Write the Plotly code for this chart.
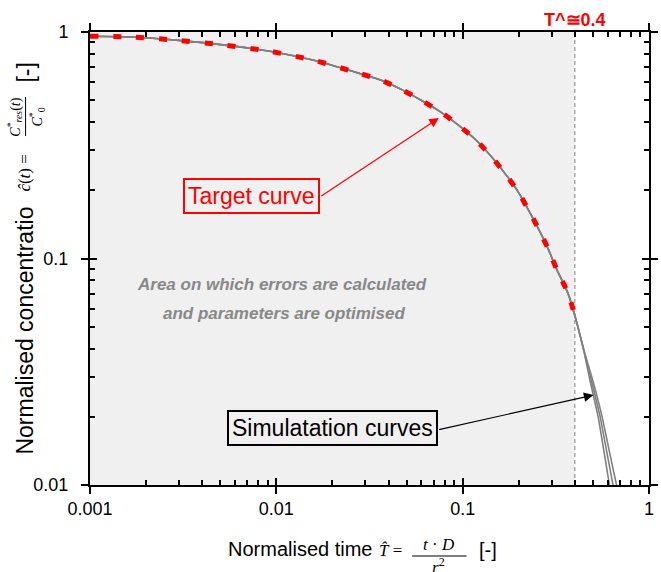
import math
import plotly.graph_objects as go

# ---------------- data ----------------
T_COMMON = [0.001, 0.0017, 0.003, 0.0053, 0.0094, 0.0163, 0.028, 0.0363, 0.0468,
            0.0605, 0.0767, 0.096, 0.119, 0.144, 0.173, 0.2, 0.229, 0.259, 0.288,
            0.318, 0.368, 0.4]
C_COMMON = [0.958, 0.950, 0.918, 0.875, 0.820, 0.746, 0.656, 0.614, 0.558,
            0.497, 0.442, 0.385, 0.331, 0.279, 0.231, 0.195, 0.160, 0.132, 0.110,
            0.0905, 0.070, 0.056]

C_TAIL = [0.0394, 0.0282, 0.0200, 0.0143, 0.0102, 0.0086]
T_TAIL_A = [0.4456, 0.4857, 0.5335, 0.5713, 0.6112, 0.6333]
T_TAIL_B = [0.4467, 0.4946, 0.5467, 0.5906, 0.6381, 0.6636]
T_TAIL_C = [0.4478, 0.5037, 0.5602, 0.6104, 0.6660, 0.6968]

T_CUT = 0.4
X_RANGE = [0.001, 1]
Y_RANGE = [0.01, 1]
X_TICKS = [0.001, 0.01, 0.1, 1]
X_TICKTEXT = ["0.001", "0.01", "0.1", "1"]
Y_TICKS = [0.01, 0.1, 1]
Y_TICKTEXT = ["0.01", "0.1", "1"]
X_MINOR = [m * 10 ** e for e in (-3, -2, -1) for m in range(2, 10)]
Y_MINOR = [m * 10 ** e for e in (-2, -1) for m in range(2, 10)]

FONT = "Liberation Sans, Arial, sans-serif"
MATH = "Liberation Serif, DejaVu Serif, serif"

fig = go.Figure()

# shaded area
fig.add_trace(go.Scatter(
    x=[X_RANGE[0], T_CUT, T_CUT, X_RANGE[0], X_RANGE[0]],
    y=[Y_RANGE[0], Y_RANGE[0], Y_RANGE[1], Y_RANGE[1], Y_RANGE[0]],
    fill="toself", fillcolor="#f0f0f0", line=dict(width=0), mode="lines",
    hoverinfo="skip", showlegend=False))
# cut line
fig.add_trace(go.Scatter(
    x=[T_CUT, T_CUT], y=Y_RANGE, mode="lines",
    line=dict(color="#808080", width=1, dash="4px,3px"),
    hoverinfo="skip", showlegend=False))

# simulation curves
for tail in (T_TAIL_A, T_TAIL_B, T_TAIL_C):
    fig.add_trace(go.Scatter(
        x=T_COMMON + tail, y=C_COMMON + C_TAIL, mode="lines",
        line=dict(color="#808080", width=1.6, shape="spline", smoothing=0.6),
        showlegend=False))

# target curve
fig.add_trace(go.Scatter(
    x=T_COMMON, y=C_COMMON, mode="lines",
    line=dict(color="#ff0000", width=5, dash="8px,15px", shape="spline", smoothing=0.6),
    showlegend=False))

axis_common = dict(type="log", showgrid=False, zeroline=False)
fig.update_layout(
    width=661, height=572,
    margin=dict(l=90, r=7, t=32, b=87),
    paper_bgcolor="white", plot_bgcolor="white",
    showlegend=False,
    font=dict(family=FONT, color="black"),
    xaxis=dict(**axis_common, range=[math.log10(X_RANGE[0]), math.log10(X_RANGE[1])],
               showline=True, linecolor="black", linewidth=2, mirror="ticks",
               tickmode="array", tickvals=X_TICKS, ticktext=X_TICKTEXT,
               ticks="inside", ticklen=7, tickwidth=2, tickcolor="black",
               ticklabelstandoff=6,
               tickfont=dict(size=18, family=FONT, color="black"),
               minor=dict(tickmode="array", tickvals=X_MINOR, ticks="inside",
                          ticklen=5, tickwidth=1.5, tickcolor="black", showgrid=False)),
    yaxis=dict(**axis_common, range=[math.log10(Y_RANGE[0]), math.log10(Y_RANGE[1])],
               showline=True, linecolor="black", linewidth=2, mirror="ticks",
               tickmode="array", tickvals=Y_TICKS, ticktext=Y_TICKTEXT,
               ticks="inside", ticklen=7, tickwidth=2, tickcolor="black",
               ticklabelstandoff=16,
               tickfont=dict(size=18, family=FONT, color="black"),
               minor=dict(tickmode="array", tickvals=Y_MINOR, ticks="inside",
                          ticklen=5, tickwidth=1.5, tickcolor="black", showgrid=False)),
    xaxis2=dict(**axis_common, range=[math.log10(X_RANGE[0]), math.log10(X_RANGE[1])],
                overlaying="x", anchor="y2", showline=False, mirror="ticks",
                tickmode="array", tickvals=X_TICKS, ticks="outside", ticklen=8,
                tickwidth=2, tickcolor="black", showticklabels=False),
    yaxis2=dict(**axis_common, range=[math.log10(Y_RANGE[0]), math.log10(Y_RANGE[1])],
                overlaying="y", anchor="x2", showline=False, mirror="ticks",
                tickmode="array", tickvals=Y_TICKS, ticks="outside", ticklen=8,
                tickwidth=2, tickcolor="black", showticklabels=False),
)
# invisible helper so overlay axes render
fig.add_trace(go.Scatter(x=[None], y=[None], xaxis="x2", yaxis="y2",
                         mode="markers", showlegend=False, hoverinfo="skip"))

L, R, T, B = 90, 654, 32, 485
def px(x): return (x - L) / (R - L)
def py(y): return (B - y) / (B - T)

def txt(text, x, y, size, family=FONT, color="black", angle=0, **kw):
    d = dict(text=text, x=px(x), y=py(y), xref="paper", yref="paper",
             xanchor="center", yanchor="middle", showarrow=False, textangle=angle,
             font=dict(size=size, family=family, color=color))
    d.update(kw)
    return d

ann = []
# x title
ann.append(txt("Normalised time", 302, 549, 20))
ann.append(txt("<i>T̂</i> =", 393, 550, 17, MATH))
ann.append(txt("<i>t</i> · <i>D</i>", 442, 544, 17, MATH))
ann.append(txt("<i>r</i><sup>2</sup>", 442, 566, 17, MATH))
ann.append(txt("[-]", 492, 550, 20))
# y title
ann.append(txt("Normalised concentratio", 24, 331, 23, angle=-90))
ann.append(txt("<i>ĉ</i>(<i>t</i>) =", 23, 173, 17, MATH, angle=-90))
ann.append(txt("<i>C</i><sup>*</sup><sub><i>res</i></sub>(<i>t</i>)", 14, 117, 14, MATH, angle=-90))
ann.append(txt("<i>C</i><sup>*</sup><sub>0</sub>", 37, 117, 14, MATH, angle=-90))
ann.append(txt("[-]", 25, 73, 23, angle=-90))
# cut label
ann.append(dict(text="<b>T^≅0.4</b>", x=math.log10(T_CUT), y=py(20), xref="x", yref="paper",
                xanchor="center", yanchor="middle", showarrow=False,
                font=dict(size=18, family=FONT, color="#ff0000")))
# area text
ann.append(txt("<b><i>Area on which errors are calculated</i></b>", 284, 284, 17, color="#888888"))
ann.append(txt("<b><i>and parameters are optimised</i></b>", 286, 313, 17, color="#888888"))
# target curve label + arrow
ann.append(txt("Target curve", 253, 196, 23, color="#ff0000",
               bordercolor="#ff0000", borderwidth=2, borderpad=3))
ann.append(dict(text="", x=math.log10(0.0745), y=math.log10(0.417), xref="x", yref="y",
                ax=-119, ay=79, axref="pixel", ayref="pixel", showarrow=True,
                arrowhead=2, arrowsize=1.6, arrowwidth=1.2, arrowcolor="#ff0000"))
# simulation label + arrow
ann.append(txt("Simulatation curves", 335, 428, 23,
               bordercolor="black", borderwidth=2, borderpad=3))
ann.append(dict(text="", x=math.log10(0.5036), y=math.log10(0.02496), xref="x", yref="y",
                ax=-156, ay=35, axref="pixel", ayref="pixel", showarrow=True,
                arrowhead=2, arrowsize=1.6, arrowwidth=1.2, arrowcolor="black"))
fig.update_layout(annotations=ann)

# fraction bars
fig.update_layout(shapes=[
    dict(type="line", xref="paper", yref="paper", x0=px(415), x1=px(470), y0=py(556), y1=py(556),
         line=dict(color="black", width=1)),
    dict(type="line", xref="paper", yref="paper", x0=px(25), x1=px(25), y0=py(97), y1=py(136),
         line=dict(color="black", width=1)),
])

fig.write_html("out.html")
